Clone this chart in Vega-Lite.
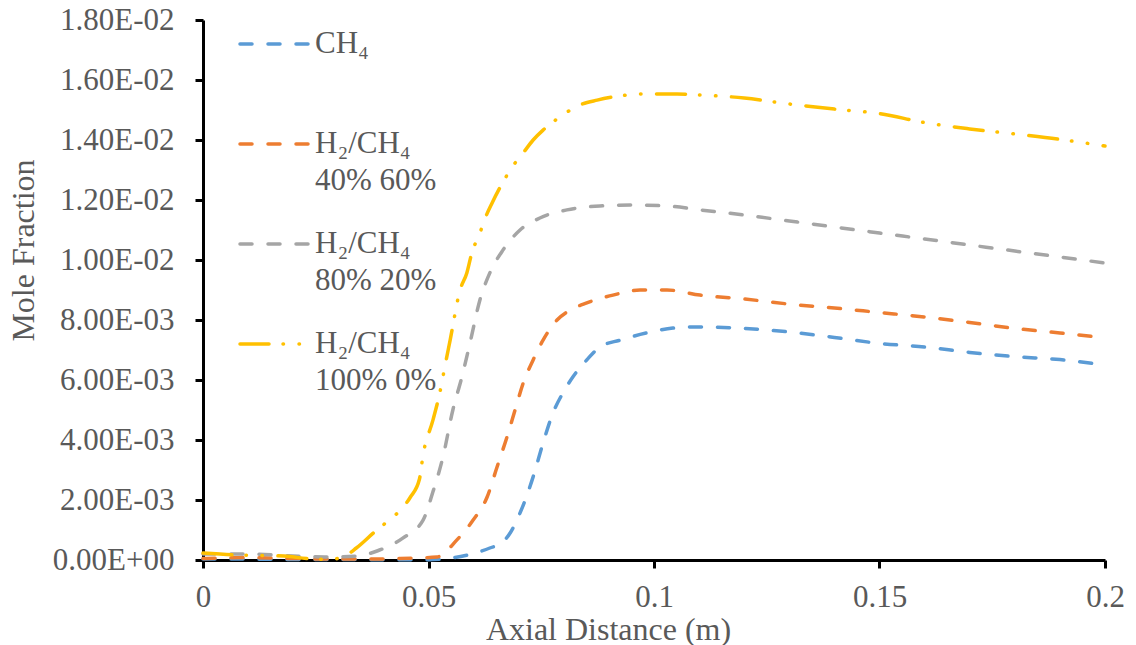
{
  "$schema": "https://vega.github.io/schema/vega-lite/v6.json",
  "width": 902,
  "height": 540,
  "autosize": {"type": "none"},
  "padding": {"left": 203, "top": 20, "right": 31, "bottom": 85},
  "background": "white",
  "config": {
    "view": {"stroke": null},
    "font": "Liberation Serif"
  },
  "data": {
    "values": [
      {"s": "CH₄", "x": 0, "y": 0.00003},
      {"s": "CH₄", "x": 0.01, "y": 0.00003},
      {"s": "CH₄", "x": 0.02, "y": 0.00002},
      {"s": "CH₄", "x": 0.03, "y": 0.00002},
      {"s": "CH₄", "x": 0.04, "y": 0.00001},
      {"s": "CH₄", "x": 0.05, "y": 0.00001},
      {"s": "CH₄", "x": 0.0554, "y": 0.00007},
      {"s": "CH₄", "x": 0.06, "y": 0.00022},
      {"s": "CH₄", "x": 0.0636, "y": 0.0004},
      {"s": "CH₄", "x": 0.0665, "y": 0.0006},
      {"s": "CH₄", "x": 0.0681, "y": 0.0009},
      {"s": "CH₄", "x": 0.0703, "y": 0.00157},
      {"s": "CH₄", "x": 0.0732, "y": 0.00277},
      {"s": "CH₄", "x": 0.0754, "y": 0.0039},
      {"s": "CH₄", "x": 0.0776, "y": 0.0049},
      {"s": "CH₄", "x": 0.0798, "y": 0.00557},
      {"s": "CH₄", "x": 0.082, "y": 0.0061},
      {"s": "CH₄", "x": 0.0851, "y": 0.00667},
      {"s": "CH₄", "x": 0.088, "y": 0.0071},
      {"s": "CH₄", "x": 0.0925, "y": 0.00733},
      {"s": "CH₄", "x": 0.0984, "y": 0.00757},
      {"s": "CH₄", "x": 0.1042, "y": 0.00773},
      {"s": "CH₄", "x": 0.11, "y": 0.00777},
      {"s": "CH₄", "x": 0.12, "y": 0.00772},
      {"s": "CH₄", "x": 0.13, "y": 0.0076},
      {"s": "CH₄", "x": 0.14, "y": 0.00742},
      {"s": "CH₄", "x": 0.15, "y": 0.00722},
      {"s": "CH₄", "x": 0.16, "y": 0.0071},
      {"s": "CH₄", "x": 0.17, "y": 0.00692},
      {"s": "CH₄", "x": 0.18, "y": 0.00678},
      {"s": "CH₄", "x": 0.19, "y": 0.00668},
      {"s": "CH₄", "x": 0.2, "y": 0.0065},

      {"s": "H₂/CH₄ 40% 60%", "x": 0, "y": 0.00005},
      {"s": "H₂/CH₄ 40% 60%", "x": 0.01, "y": 0.00008},
      {"s": "H₂/CH₄ 40% 60%", "x": 0.02, "y": 0.00005},
      {"s": "H₂/CH₄ 40% 60%", "x": 0.03, "y": 0.00003},
      {"s": "H₂/CH₄ 40% 60%", "x": 0.04, "y": 0.00003},
      {"s": "H₂/CH₄ 40% 60%", "x": 0.0437, "y": 0.00005},
      {"s": "H₂/CH₄ 40% 60%", "x": 0.0519, "y": 0.0001},
      {"s": "H₂/CH₄ 40% 60%", "x": 0.0563, "y": 0.00067},
      {"s": "H₂/CH₄ 40% 60%", "x": 0.0599, "y": 0.00133},
      {"s": "H₂/CH₄ 40% 60%", "x": 0.063, "y": 0.0021},
      {"s": "H₂/CH₄ 40% 60%", "x": 0.0652, "y": 0.0031},
      {"s": "H₂/CH₄ 40% 60%", "x": 0.0674, "y": 0.0041},
      {"s": "H₂/CH₄ 40% 60%", "x": 0.0692, "y": 0.005},
      {"s": "H₂/CH₄ 40% 60%", "x": 0.071, "y": 0.0059},
      {"s": "H₂/CH₄ 40% 60%", "x": 0.0732, "y": 0.00667},
      {"s": "H₂/CH₄ 40% 60%", "x": 0.0754, "y": 0.00733},
      {"s": "H₂/CH₄ 40% 60%", "x": 0.0785, "y": 0.008},
      {"s": "H₂/CH₄ 40% 60%", "x": 0.0814, "y": 0.00833},
      {"s": "H₂/CH₄ 40% 60%", "x": 0.0851, "y": 0.00857},
      {"s": "H₂/CH₄ 40% 60%", "x": 0.0909, "y": 0.00883},
      {"s": "H₂/CH₄ 40% 60%", "x": 0.0969, "y": 0.009},
      {"s": "H₂/CH₄ 40% 60%", "x": 0.1029, "y": 0.009},
      {"s": "H₂/CH₄ 40% 60%", "x": 0.1102, "y": 0.00883},
      {"s": "H₂/CH₄ 40% 60%", "x": 0.12, "y": 0.0087},
      {"s": "H₂/CH₄ 40% 60%", "x": 0.13, "y": 0.00853},
      {"s": "H₂/CH₄ 40% 60%", "x": 0.14, "y": 0.0084},
      {"s": "H₂/CH₄ 40% 60%", "x": 0.15, "y": 0.00825},
      {"s": "H₂/CH₄ 40% 60%", "x": 0.16, "y": 0.0081},
      {"s": "H₂/CH₄ 40% 60%", "x": 0.17, "y": 0.00792},
      {"s": "H₂/CH₄ 40% 60%", "x": 0.18, "y": 0.00772},
      {"s": "H₂/CH₄ 40% 60%", "x": 0.19, "y": 0.00757},
      {"s": "H₂/CH₄ 40% 60%", "x": 0.2, "y": 0.0074},

      {"s": "H₂/CH₄ 80% 20%", "x": 0, "y": 0.0002},
      {"s": "H₂/CH₄ 80% 20%", "x": 0.01, "y": 0.0002},
      {"s": "H₂/CH₄ 80% 20%", "x": 0.02, "y": 0.00013},
      {"s": "H₂/CH₄ 80% 20%", "x": 0.027, "y": 0.0001},
      {"s": "H₂/CH₄ 80% 20%", "x": 0.0341, "y": 0.00013},
      {"s": "H₂/CH₄ 80% 20%", "x": 0.0386, "y": 0.0003},
      {"s": "H₂/CH₄ 80% 20%", "x": 0.0443, "y": 0.00073},
      {"s": "H₂/CH₄ 80% 20%", "x": 0.0488, "y": 0.00133},
      {"s": "H₂/CH₄ 80% 20%", "x": 0.051, "y": 0.00228},
      {"s": "H₂/CH₄ 80% 20%", "x": 0.0532, "y": 0.00343},
      {"s": "H₂/CH₄ 80% 20%", "x": 0.0554, "y": 0.005},
      {"s": "H₂/CH₄ 80% 20%", "x": 0.0574, "y": 0.0061},
      {"s": "H₂/CH₄ 80% 20%", "x": 0.0592, "y": 0.00723},
      {"s": "H₂/CH₄ 80% 20%", "x": 0.0614, "y": 0.00867},
      {"s": "H₂/CH₄ 80% 20%", "x": 0.0636, "y": 0.00957},
      {"s": "H₂/CH₄ 80% 20%", "x": 0.0665, "y": 0.01033},
      {"s": "H₂/CH₄ 80% 20%", "x": 0.0703, "y": 0.011},
      {"s": "H₂/CH₄ 80% 20%", "x": 0.0747, "y": 0.0114},
      {"s": "H₂/CH₄ 80% 20%", "x": 0.0807, "y": 0.01167},
      {"s": "H₂/CH₄ 80% 20%", "x": 0.088, "y": 0.0118},
      {"s": "H₂/CH₄ 80% 20%", "x": 0.0953, "y": 0.01183},
      {"s": "H₂/CH₄ 80% 20%", "x": 0.1029, "y": 0.0118},
      {"s": "H₂/CH₄ 80% 20%", "x": 0.1102, "y": 0.01167},
      {"s": "H₂/CH₄ 80% 20%", "x": 0.12, "y": 0.0115},
      {"s": "H₂/CH₄ 80% 20%", "x": 0.13, "y": 0.0113},
      {"s": "H₂/CH₄ 80% 20%", "x": 0.14, "y": 0.0111},
      {"s": "H₂/CH₄ 80% 20%", "x": 0.15, "y": 0.0109},
      {"s": "H₂/CH₄ 80% 20%", "x": 0.16, "y": 0.0107},
      {"s": "H₂/CH₄ 80% 20%", "x": 0.17, "y": 0.0105},
      {"s": "H₂/CH₄ 80% 20%", "x": 0.18, "y": 0.0103},
      {"s": "H₂/CH₄ 80% 20%", "x": 0.19, "y": 0.0101},
      {"s": "H₂/CH₄ 80% 20%", "x": 0.2, "y": 0.0099},

      {"s": "H₂/CH₄ 100% 0%", "x": 0, "y": 0.00023},
      {"s": "H₂/CH₄ 100% 0%", "x": 0.0067, "y": 0.00017},
      {"s": "H₂/CH₄ 100% 0%", "x": 0.018, "y": 0.00013},
      {"s": "H₂/CH₄ 100% 0%", "x": 0.023, "y": 0.00005},
      {"s": "H₂/CH₄ 100% 0%", "x": 0.028, "y": 0.00002},
      {"s": "H₂/CH₄ 100% 0%", "x": 0.031, "y": 0.0001},
      {"s": "H₂/CH₄ 100% 0%", "x": 0.034, "y": 0.0004},
      {"s": "H₂/CH₄ 100% 0%", "x": 0.038, "y": 0.00093},
      {"s": "H₂/CH₄ 100% 0%", "x": 0.041, "y": 0.0013},
      {"s": "H₂/CH₄ 100% 0%", "x": 0.044, "y": 0.0017},
      {"s": "H₂/CH₄ 100% 0%", "x": 0.046, "y": 0.0021},
      {"s": "H₂/CH₄ 100% 0%", "x": 0.048, "y": 0.0027},
      {"s": "H₂/CH₄ 100% 0%", "x": 0.0488, "y": 0.0035},
      {"s": "H₂/CH₄ 100% 0%", "x": 0.051, "y": 0.00467},
      {"s": "H₂/CH₄ 100% 0%", "x": 0.0525, "y": 0.00557},
      {"s": "H₂/CH₄ 100% 0%", "x": 0.0537, "y": 0.0065},
      {"s": "H₂/CH₄ 100% 0%", "x": 0.0548, "y": 0.00733},
      {"s": "H₂/CH₄ 100% 0%", "x": 0.057, "y": 0.009},
      {"s": "H₂/CH₄ 100% 0%", "x": 0.0585, "y": 0.00957},
      {"s": "H₂/CH₄ 100% 0%", "x": 0.0596, "y": 0.01023},
      {"s": "H₂/CH₄ 100% 0%", "x": 0.0614, "y": 0.0109},
      {"s": "H₂/CH₄ 100% 0%", "x": 0.0625, "y": 0.01137},
      {"s": "H₂/CH₄ 100% 0%", "x": 0.0641, "y": 0.0119},
      {"s": "H₂/CH₄ 100% 0%", "x": 0.0659, "y": 0.01243},
      {"s": "H₂/CH₄ 100% 0%", "x": 0.0687, "y": 0.01313},
      {"s": "H₂/CH₄ 100% 0%", "x": 0.071, "y": 0.01357},
      {"s": "H₂/CH₄ 100% 0%", "x": 0.0732, "y": 0.014},
      {"s": "H₂/CH₄ 100% 0%", "x": 0.0754, "y": 0.01433},
      {"s": "H₂/CH₄ 100% 0%", "x": 0.0776, "y": 0.0146},
      {"s": "H₂/CH₄ 100% 0%", "x": 0.0807, "y": 0.01493},
      {"s": "H₂/CH₄ 100% 0%", "x": 0.0836, "y": 0.01517},
      {"s": "H₂/CH₄ 100% 0%", "x": 0.0874, "y": 0.01533},
      {"s": "H₂/CH₄ 100% 0%", "x": 0.0925, "y": 0.01547},
      {"s": "H₂/CH₄ 100% 0%", "x": 0.0969, "y": 0.01553},
      {"s": "H₂/CH₄ 100% 0%", "x": 0.1051, "y": 0.01553},
      {"s": "H₂/CH₄ 100% 0%", "x": 0.1102, "y": 0.0155},
      {"s": "H₂/CH₄ 100% 0%", "x": 0.12, "y": 0.0154},
      {"s": "H₂/CH₄ 100% 0%", "x": 0.13, "y": 0.0152},
      {"s": "H₂/CH₄ 100% 0%", "x": 0.14, "y": 0.01503},
      {"s": "H₂/CH₄ 100% 0%", "x": 0.15, "y": 0.01488},
      {"s": "H₂/CH₄ 100% 0%", "x": 0.16, "y": 0.01458},
      {"s": "H₂/CH₄ 100% 0%", "x": 0.17, "y": 0.01437},
      {"s": "H₂/CH₄ 100% 0%", "x": 0.18, "y": 0.0142},
      {"s": "H₂/CH₄ 100% 0%", "x": 0.19, "y": 0.01402},
      {"s": "H₂/CH₄ 100% 0%", "x": 0.2, "y": 0.0138}
    ]
  },
  "mark": {"type": "line", "strokeWidth": 3.5, "strokeCap": "round", "interpolate": "monotone"},
  "encoding": {
    "x": {
      "field": "x", "type": "quantitative",
      "scale": {"domain": [0, 0.2], "nice": false, "zero": false},
      "axis": {
        "title": "Axial Distance (m)",
        "values": [0, 0.05, 0.1, 0.15, 0.2],
        "format": "~g",
        "grid": false,
        "domainColor": "#000000", "domainWidth": 3,
        "tickColor": "#000000", "tickWidth": 3, "tickSize": 8,
        "labelFont": "Liberation Serif", "labelFontSize": 31, "labelColor": "#595959",
        "labelPadding": 14, "labelFlush": false, "labelOverlap": false,
        "titleFont": "Liberation Serif", "titleFontSize": 32, "titleFontWeight": "normal", "titleColor": "#595959",
        "titleX": 405, "titleY": 54, "titleBaseline": "top", "titleAlign": "center"
      }
    },
    "y": {
      "field": "y", "type": "quantitative",
      "scale": {"domain": [0, 0.018], "nice": false},
      "axis": {
        "title": "Mole Fraction",
        "values": [0, 0.002, 0.004, 0.006, 0.008, 0.01, 0.012, 0.014, 0.016, 0.018],
        "labelExpr": "datum.value == 0 ? '0.00E+00' : slice(format(datum.value, '.2e'), 0, 4) + 'E-0' + slice(format(datum.value, '.2e'), 6)",
        "grid": false,
        "domainColor": "#000000", "domainWidth": 3,
        "tickColor": "#000000", "tickWidth": 3, "tickSize": 8,
        "labelFont": "Liberation Serif", "labelFontSize": 31, "labelColor": "#595959",
        "labelPadding": 21, "labelFlush": false, "labelOverlap": false,
        "titleFont": "Liberation Serif", "titleFontSize": 32, "titleFontWeight": "normal", "titleColor": "#595959",
        "titleX": -170, "titleY": 230, "titleBaseline": "alphabetic", "titleAlign": "center", "titleAngle": -90
      }
    },
    "color": {
      "field": "s", "type": "nominal",
      "scale": {
        "domain": ["CH₄", "H₂/CH₄ 40% 60%", "H₂/CH₄ 80% 20%", "H₂/CH₄ 100% 0%"],
        "range": ["#5B9BD5", "#ED7D31", "#A5A5A5", "#FFC000"]
      },
      "legend": {
        "title": null,
        "orient": "none",
        "legendX": 35,
        "legendY": -13,
        "padding": 0,
        "symbolType": "stroke",
        "symbolSize": 4900,
        "symbolStrokeWidth": 3.5,
        "labelFont": "Liberation Serif", "labelFontSize": 31, "labelColor": "#595959",
        "labelLimit": 0,
        "labelOffset": 3,
        "labelBaseline": "middle",
        "rowPadding": 11,
        "labelExpr": "datum.label == 'CH₄' ? ['CH₄', ''] : ['H₂/CH₄', slice(datum.label, 7)]",
        "encode": {
          "labels": {"update": {"lineHeight": {"value": 37}}},
          "symbols": {"update": {"strokeCap": {"value": "round"}}}
        }
      }
    },
    "strokeDash": {
      "field": "s", "type": "nominal",
      "scale": {
        "domain": ["CH₄", "H₂/CH₄ 40% 60%", "H₂/CH₄ 80% 20%", "H₂/CH₄ 100% 0%"],
        "range": [[12, 16], [12, 16], [12, 16], [29, 14, 0.5, 15.5, 0.5, 15.5]]
      },
      "legend": null
    }
  }
}
